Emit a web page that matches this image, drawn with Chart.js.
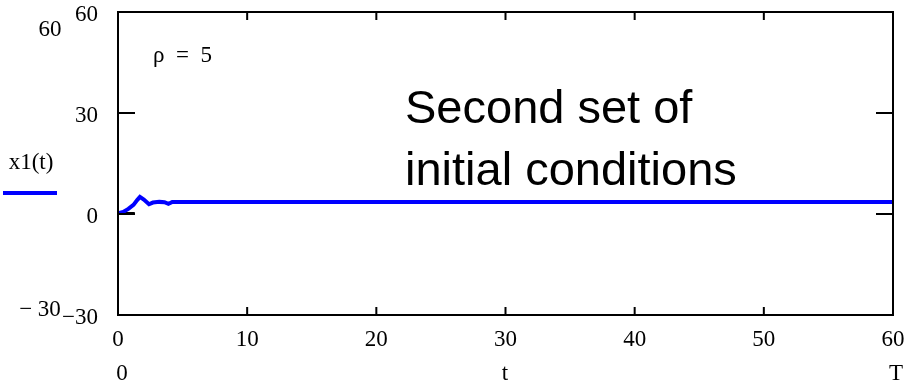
<!DOCTYPE html>
<html>
<head>
<script src="https://cdn.jsdelivr.net/npm/chart.js"></script>
<style>
  html, body { margin: 0; padding: 0; background: #fff; }
  #wrap { width: 913px; height: 384px; }
</style>
</head>
<body>
<div id="wrap"><canvas id="myChart"></canvas></div>
<script>
    // x1(t)
    const tValues  = [0, 0.4, 0.8, 1.2, 1.5, 1.7, 2.0, 2.4, 2.7, 3.2, 3.6, 3.9, 4.2, 10, 20, 30, 40, 50, 60]
    const x1Values = [0.2, 0.6, 1.5, 2.7, 4.2, 5.1, 4.3, 2.9, 3.4, 3.6, 3.5, 3.0, 3.6, 3.6, 3.6, 3.6, 3.6, 3.6, 3.6]
    // short black trace near the origin
    const blackT = [0, 1.3]
    const blackValues = [0.3, 0.3]

    const xTicks = [0, 10, 20, 30, 40, 50, 60]
    const yTicks = [-30, 0, 30, 60]

    const serif = '"Liberation Serif", "Times New Roman", serif'

    const framePlugin = {
        id: 'frame',
        afterDraw(chart) {
            const {ctx, chartArea: a, scales} = chart
            const xs = scales.x, ys = scales.y
            ctx.save()
            ctx.strokeStyle = '#000'
            ctx.lineWidth = 2
            ctx.strokeRect(a.left, a.top, a.right - a.left, a.bottom - a.top)
            // inward ticks
            ctx.beginPath()
            xTicks.slice(1, -1).forEach(v => {
                const px = xs.getPixelForValue(v)
                ctx.moveTo(px, a.bottom); ctx.lineTo(px, a.bottom - 8)
                ctx.moveTo(px, a.top); ctx.lineTo(px, a.top + 8)
            })
            yTicks.slice(1, -1).forEach(v => {
                const py = ys.getPixelForValue(v)
                ctx.moveTo(a.left, py); ctx.lineTo(a.left + 17, py)
                ctx.moveTo(a.right, py); ctx.lineTo(a.right - 17, py)
            })
            ctx.stroke()

            // Mathcad style labels
            ctx.fillStyle = '#000'
            ctx.font = '23px ' + serif
            ctx.textAlign = 'center'
            ctx.textBaseline = 'middle'
            ctx.fillText('60', 50, 30)
            ctx.fillText('\u2212 30', 40, 310)
            ctx.fillText('0', 122, 374)
            ctx.fillText('t', 505, 374)
            ctx.fillText('T', 896, 374)
            ctx.fillText('x1(t)', 31, 163)
            ctx.textAlign = 'left'
            ctx.fillText('\u03c1  =  5', 153, 56)

            ctx.strokeStyle = '#0000ff'
            ctx.lineWidth = 4
            ctx.beginPath()
            ctx.moveTo(3, 193); ctx.lineTo(57, 193)
            ctx.stroke()

            ctx.font = '47px "Liberation Sans", Arial, sans-serif'
            ctx.textBaseline = 'alphabetic'
            ctx.fillText('Second set of', 405, 123)
            ctx.fillText('initial conditions', 405, 185)
            ctx.restore()
        }
    }

    const ctx = document.getElementById('myChart')
    new Chart(ctx, {
        type: 'line',
        data: {
            datasets: [{
                label: 'x1(t)',
                data: tValues.map((t, i) => ({x: t, y: x1Values[i]})),
                borderColor: '#0000ff',
                borderWidth: 4,
                pointRadius: 0,
                tension: 0,
                order: 0
            }, {
                label: 'black',
                data: blackT.map((t, i) => ({x: t, y: blackValues[i]})),
                borderColor: '#000',
                borderWidth: 2,
                pointRadius: 0,
                order: 1
            }]
        },
        options: {
            responsive: true,
            maintainAspectRatio: false,
            animation: false,
            layout: {padding: {top: 12, right: 20, bottom: 0, left: 0}},
            plugins: {legend: {display: false}, tooltip: {enabled: false}},
            scales: {
                x: {
                    type: 'linear',
                    min: 0, max: 60,
                    afterBuildTicks: s => { s.ticks = xTicks.map(v => ({value: v})) },
                    afterFit: s => { s.height = 69; s.paddingLeft = 0; s.paddingRight = 0 },
                    grid: {display: false},
                    border: {display: false},
                    ticks: {color: '#000', font: {family: serif, size: 23}, padding: 3, maxRotation: 0}
                },
                y: {
                    type: 'linear',
                    min: -30, max: 60,
                    afterBuildTicks: s => { s.ticks = yTicks.map(v => ({value: v})) },
                    afterFit: s => { s.width = 118; s.paddingTop = 0; s.paddingBottom = 0 },
                    grid: {display: false},
                    border: {display: false},
                    ticks: {
                        color: '#000', font: {family: serif, size: 23}, padding: 12, labelOffset: 3,
                        callback: v => v < 0 ? '\u2212' + Math.abs(v) : String(v)
                    }
                }
            }
        },
        plugins: [framePlugin]
    })
</script>
</body>
</html>
